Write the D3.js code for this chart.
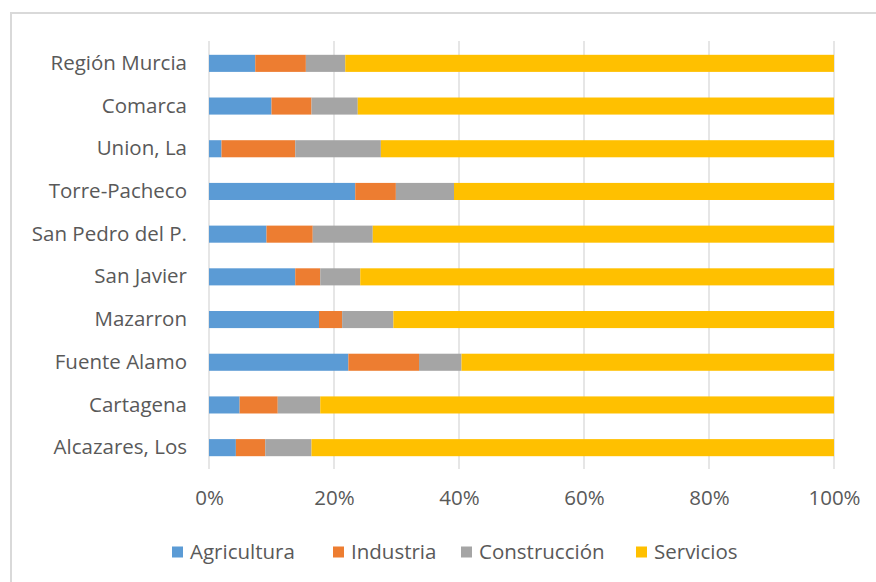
<!DOCTYPE html>
<html>
<head>
<meta charset="utf-8">
<script src="https://cdn.jsdelivr.net/npm/d3@7"></script>
<style>
  html, body { margin: 0; padding: 0; background: #fff; }
  svg { display: block; }
  text { font-family: "Open Sans", Lato, sans-serif; fill: #595959; }
</style>
</head>
<body>
<svg id="chart" width="876" height="582"></svg>
<script>
// Municipalities (top to bottom) and sector shares of employment, in %
const categories = ["Región Murcia", "Comarca", "Union, La", "Torre-Pacheco", "San Pedro del P.",
                    "San Javier", "Mazarron", "Fuente Alamo", "Cartagena", "Alcazares, Los"];
const seriesNames = ["Agricultura", "Industria", "Construcción", "Servicios"];
const agricultura  = [7.4, 10.0, 2.0, 23.4, 9.2, 13.8, 17.6, 22.3, 4.9, 4.3];
const industria    = [8.1, 6.4, 11.8, 6.5, 7.4, 4.0, 3.7, 11.3, 6.1, 4.7];
const construccion = [6.3, 7.4, 13.7, 9.3, 9.6, 6.4, 8.2, 6.8, 6.8, 7.4];
const servicios    = [78.2, 76.2, 72.5, 60.8, 73.8, 75.8, 70.5, 59.6, 82.2, 83.6];
const tickValues = [0, 0.2, 0.4, 0.6, 0.8, 1.0];
const colors = ["#5B9BD5", "#ED7D31", "#A5A5A5", "#FFC000"];

const rows = categories.map((c, i) => ({
  category: c,
  Agricultura: agricultura[i],
  Industria: industria[i],
  "Construcción": construccion[i],
  Servicios: servicios[i]
}));

const svg = d3.select("#chart");
const FONT = "'Open Sans', Lato, sans-serif";
const FONT_SIZE = "20.5px";

// chart frame
svg.append("rect")
  .attr("x", 11).attr("y", 13)
  .attr("width", 900).attr("height", 600)
  .attr("fill", "#fff")
  .attr("stroke", "#d9d9d9").attr("stroke-width", 2);

const x = d3.scaleLinear().domain([0, 1]).range([209, 834]);
const y = d3.scaleBand().domain(categories).range([42, 469])
  .paddingInner(0.6).paddingOuter(0.3);
const color = d3.scaleOrdinal().domain(seriesNames).range(colors);

// vertical gridlines
svg.append("g").selectAll("line")
  .data(tickValues)
  .join("line")
  .attr("x1", d => x(d)).attr("x2", d => x(d))
  .attr("y1", 41).attr("y2", 469)
  .attr("stroke", "#d9d9d9").attr("stroke-width", 1.3);

// normalised stack
const stack = d3.stack().keys(seriesNames).offset(d3.stackOffsetExpand);
const layers = stack(rows);

svg.append("g").selectAll("g")
  .data(layers)
  .join("g")
  .attr("fill", d => color(d.key))
  .selectAll("rect")
  .data(d => d)
  .join("rect")
  .attr("x", d => x(d[0]))
  .attr("width", d => x(d[1]) - x(d[0]))
  .attr("y", d => y(d.data.category))
  .attr("height", y.bandwidth());

// category axis labels
const yAxis = d3.axisLeft(y).tickSize(0).tickPadding(22);
svg.append("g")
  .attr("transform", `translate(${x(0)},0)`)
  .call(yAxis)
  .call(g => g.select(".domain").remove())
  .call(g => g.selectAll("text")
    .style("font-size", FONT_SIZE)
    .style("font-family", FONT)
    .attr("fill", "#595959"));

// percentage axis
const xAxis = d3.axisBottom(x).tickValues(tickValues).tickFormat(d3.format(".0%")).tickSize(0).tickPadding(22);
svg.append("g")
  .attr("transform", "translate(0,468)")
  .call(xAxis)
  .call(g => g.select(".domain").remove())
  .call(g => g.selectAll("text")
    .style("font-size", FONT_SIZE)
    .style("font-family", FONT)
    .attr("fill", "#595959"));

// legend
const legendX = [172, 333, 461, 636];
const legend = svg.append("g").selectAll("g")
  .data(seriesNames)
  .join("g")
  .attr("transform", (d, i) => `translate(${legendX[i]},552)`);
legend.append("rect")
  .attr("x", 0).attr("y", -5.5)
  .attr("width", 11).attr("height", 11)
  .attr("fill", d => color(d));
legend.append("text")
  .attr("x", 18).attr("y", 0)
  .attr("dy", "0.35em")
  .style("font-size", FONT_SIZE)
  .text(d => d);
</script>
</body>
</html>
